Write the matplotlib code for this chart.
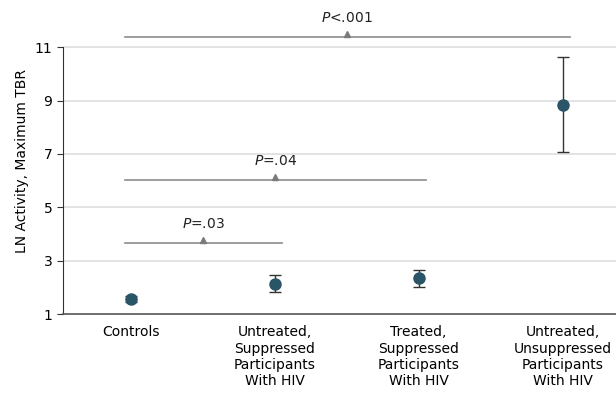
import numpy as np
import matplotlib.pyplot as plt

# Datos
grupos = ['Controls',
          'Untreated,\nSuppressed\nParticipants\nWith HIV',
          'Treated,\nSuppressed\nParticipants\nWith HIV',
          'Untreated,\nUnsuppressed\nParticipants\nWith HIV']
tbr_media = [1.56, 2.12, 2.35, 8.83]
tbr_inf = [1.45, 1.82, 2.01, 7.07]
tbr_sup = [1.67, 2.46, 2.65, 10.62]

# Comparaciones: (grupo final, altura, texto)
comp_fin = [1, 2, 3]
comp_altura = [3.66, 6.02, 11.37]
comp_texto = [r'$\mathit{P}$=.03', r'$\mathit{P}$=.04', r'$\mathit{P}$<.001']

color_punto = '#2a5566'
color_linea = '#8c8c8c'

fig = plt.figure(figsize=(6.16, 3.97), dpi=100)
ax = fig.add_axes([0.102, 0.209, 0.898, 0.773])

x = np.arange(len(grupos))
media = np.array(tbr_media)
err = [media - np.array(tbr_inf), np.array(tbr_sup) - media]

ax.errorbar(x, media, yerr=err, fmt='o', color=color_punto, ms=8,
            ecolor='#333333', elinewidth=1, capsize=4.3, capthick=1, zorder=3)

# Líneas de comparación
for fin, h, txt in zip(comp_fin, comp_altura, comp_texto):
    x0, x1 = -0.04, fin + 0.05
    xm = (x0 + x1) / 2
    ax.plot([x0, x1], [h, h], color=color_linea, lw=1.2, clip_on=False)
    ax.plot(xm, h + 0.12, marker='^', ms=5, color='#7a7a7a', clip_on=False)
    ax.text(xm, h + 0.45, txt, ha='center', va='bottom', fontsize=10, color='#222222')

ax.set_xlim(-0.47, 3.37)
ax.set_ylim(1, 12.5)
ax.set_yticks([1, 3, 5, 7, 9, 11])
ax.set_xticks(x)
ax.set_xticklabels(grupos, fontsize=10, linespacing=1.22)
ax.tick_params(axis='x', length=0, pad=8)
ax.tick_params(axis='y', labelsize=10, length=4, color='#333333')
ax.set_ylabel('LN Activity, Maximum TBR', fontsize=10)

for yv in [3, 5, 7, 9, 11]:
    ax.axhline(yv, color='#dedede', lw=1.2, zorder=0)

ax.spines['top'].set_visible(False)
ax.spines['right'].set_visible(False)
ax.spines['left'].set_bounds(1, 11)
ax.spines['left'].set_color('#333333')
ax.spines['bottom'].set_color('#555555')
ax.spines['bottom'].set_linewidth(1.2)

plt.savefig('out.png', dpi=100)
